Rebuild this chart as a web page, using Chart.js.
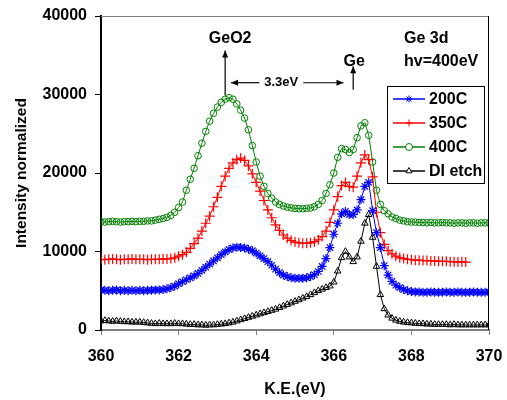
<!DOCTYPE html>
<html>
<head>
<meta charset="utf-8">
<script src="https://cdn.jsdelivr.net/npm/chart.js@4/dist/chart.umd.min.js"></script>
<style>
  html, body { margin: 0; padding: 0; background: #fff; overflow: hidden; }
  #wrap { width: 507px; height: 400px; }
</style>
</head>
<body>
<div id="wrap"><canvas id="xps"></canvas></div>
<script>
// ---------- data ----------
const ke = [
  360.0,360.1,360.2,360.3,360.4,360.5,360.6,360.7,360.8,360.9,
  361.0,361.1,361.2,361.3,361.4,361.5,361.6,361.7,361.8,361.9,
  362.0,362.1,362.2,362.3,362.4,362.5,362.6,362.7,362.8,362.9,
  363.0,363.1,363.2,363.3,363.4,363.5,363.6,363.7,363.8,363.9,
  364.0,364.1,364.2,364.3,364.4,364.5,364.6,364.7,364.8,364.9,
  365.0,365.1,365.2,365.3,365.4,365.5,365.6,365.7,365.8,365.9,
  366.0,366.1,366.2,366.3,366.4,366.5,366.6,366.7,366.8,366.9,
  367.0,367.1,367.2,367.3,367.4,367.5,367.6,367.7,367.8,367.9,
  368.0,368.1,368.2,368.3,368.4,368.5,368.6,368.7,368.8,368.9,
  369.0,369.1,369.2,369.3,369.4,369.5,369.6,369.7,369.8,369.9,
  370.0
];

const s200 = [
  5100,5050,5000,5050,5100,5000,5050,5000,5050,5000,
  5050,5000,5050,5050,5100,5100,5150,5250,5400,5600,
  5900,6150,6400,6650,6900,7200,7600,8000,8400,8800,
  9200,9600,9950,10250,10450,10550,10500,10450,10300,10100,
  9800,9450,9100,8700,8250,7750,7300,7000,6800,6650,
  6600,6580,6600,6650,6800,7050,7450,8100,9100,10500,
  12200,13600,14800,15100,14700,14700,15300,16600,18300,18800,
  15200,12400,10500,8200,7000,6200,5700,5400,5150,5000,
  4900,4850,4850,4800,4800,4850,4800,4800,4800,4850,
  4800,4800,4850,4800,4800,4800,4850,4800,4800,4800,
  4850
];

// 350C stops at 369.4 eV
const s350 = [
  9000,8950,9000,9050,9000,8950,9000,9000,9050,9000,
  9000,9000,8950,9000,9000,9000,9050,9050,9100,9200,
  9400,9600,9900,10400,11000,11700,12600,13600,14500,15700,
  16900,18300,19600,20600,21300,21700,21900,21600,20900,19900,
  18800,17700,16500,15300,14300,13400,12700,12100,11700,11400,
  11200,11100,11050,11050,11100,11250,11500,11900,12600,13700,
  15300,17000,18400,18800,18300,18200,19600,21300,22300,21700,
  19500,15000,12400,10900,10100,9700,9400,9200,9100,9000,
  8950,8900,8900,8850,8850,8800,8800,8750,8750,8750,
  8700,8700,8650,8700,8650
];

const s400 = [
  13800,13750,13800,13850,13800,13750,13800,13800,13850,13800,
  13850,13850,13900,13900,14000,14100,14200,14350,14600,15000,
  15600,16300,17800,19200,20600,22200,23800,25300,26600,27600,
  28400,29000,29400,29600,29400,28800,28000,27000,25500,23500,
  21400,19600,18300,17400,16800,16300,16000,15800,15650,15550,
  15500,15450,15450,15500,15550,15700,16000,16500,17400,18500,
  20000,22000,23100,23000,22600,23000,24500,26000,26400,24800,
  21400,17800,16000,15200,14800,14400,14200,14000,13900,13800,
  13750,13750,13700,13700,13650,13700,13650,13650,13700,13650,
  13650,13600,13650,13650,13600,13650,13650,13600,13650,13650,
  13650
];

const sDI = [
  1150,1200,1150,1100,1150,1100,1050,1050,1000,1000,
  1000,950,900,850,800,850,800,800,800,850,
  800,800,750,700,700,650,650,600,650,650,
  700,750,800,900,1000,1150,1300,1450,1600,1750,
  1900,2050,2200,2350,2500,2650,2850,3050,3250,3450,
  3650,3850,4050,4250,4500,4750,5000,5200,5400,5600,
  6100,7500,9200,10000,9300,8700,9300,11300,13600,14700,
  11800,8100,4500,2700,1900,1500,1250,1100,1000,950,
  900,850,800,800,750,750,700,700,700,700,
  650,700,650,650,650,650,650,650,650,650,
  650
];

const seriesNames = ['200C', '350C', '400C', 'DI etch'];
const xTicks = [360, 362, 364, 366, 368, 370];
const yTicks = [0, 10000, 20000, 30000, 40000];

// ---------- helpers ----------
const FONT = '"Liberation Sans", Arial, sans-serif';
const pts = (ys) => ys.map((y, i) => ({ x: ke[i], y: y }));

function mkSet(label, ys, color, style, r, bw) {
  return {
    label: label,
    data: pts(ys),
    borderColor: color,
    backgroundColor: 'rgba(0,0,0,0)',
    borderWidth: 1,
    pointStyle: style,
    pointRadius: r,
    pointBorderColor: color,
    pointBackgroundColor: 'rgba(0,0,0,0)',
    pointBorderWidth: bw,
    tension: 0
  };
}

function arrow(ctx, x1, y1, x2, y2) {
  const a = Math.atan2(y2 - y1, x2 - x1);
  ctx.beginPath();
  ctx.moveTo(x1, y1);
  ctx.lineTo(x2, y2);
  ctx.stroke();
  ctx.beginPath();
  ctx.moveTo(x2, y2);
  ctx.lineTo(x2 - 7 * Math.cos(a) + 3 * Math.sin(a), y2 - 7 * Math.sin(a) - 3 * Math.cos(a));
  ctx.lineTo(x2 - 7 * Math.cos(a) - 3 * Math.sin(a), y2 - 7 * Math.sin(a) + 3 * Math.cos(a));
  ctx.closePath();
  ctx.fill();
}

// frame, annotations and inset legend
const extras = {
  id: 'extras',
  afterDraw(chart) {
    const ctx = chart.ctx;
    const a = chart.chartArea;
    const xs = chart.scales.x, ys = chart.scales.y;
    ctx.save();

    // top / right border
    ctx.lineWidth = 1;
    ctx.strokeStyle = '#808080';
    ctx.beginPath(); ctx.moveTo(a.left, a.top + 0.5); ctx.lineTo(a.right, a.top + 0.5); ctx.stroke();
    ctx.strokeStyle = '#000';
    ctx.beginPath(); ctx.moveTo(a.right - 0.5, a.top); ctx.lineTo(a.right - 0.5, a.bottom); ctx.stroke();

    // arrows
    ctx.strokeStyle = '#000';
    ctx.fillStyle = '#000';
    ctx.lineWidth = 1.2;
    const gx = xs.getPixelForValue(363.2);
    arrow(ctx, gx, ys.getPixelForValue(29900), gx, ys.getPixelForValue(35600));
    const ex = xs.getPixelForValue(366.5);
    arrow(ctx, ex, ys.getPixelForValue(30600), ex, ys.getPixelForValue(33600));
    const hy = ys.getPixelForValue(31500);
    const tx = (xs.getPixelForValue(363.35) + xs.getPixelForValue(366.25)) / 2 - 4;
    arrow(ctx, tx - 24, hy, xs.getPixelForValue(363.35), hy);
    arrow(ctx, tx + 20, hy, xs.getPixelForValue(366.25), hy);

    // texts
    ctx.textBaseline = 'middle';
    ctx.font = 'bold 16px ' + FONT;
    ctx.textAlign = 'center';
    ctx.fillText('GeO2', gx + 5, 39);
    ctx.fillText('Ge', ex + 1, 62);
    ctx.textAlign = 'left';
    ctx.fillText('Ge 3d', 404, 39);
    ctx.fillText('hv=400eV', 404, 62);
    ctx.font = 'bold 13px ' + FONT;
    ctx.textAlign = 'center';
    ctx.fillText('3.3eV', tx - 2, hy);

    // legend box
    const lx = 387, ly = 86, lw = 97, lh = 97;
    ctx.fillStyle = '#fff';
    ctx.fillRect(lx, ly, lw, lh);
    ctx.lineWidth = 1;
    ctx.strokeStyle = '#000';
    ctx.strokeRect(lx + 0.5, ly + 0.5, lw, lh);
    const rows = [99, 123, 147, 171];
    chart.data.datasets.forEach((ds, i) => {
      const y = rows[i];
      ctx.strokeStyle = ds.borderColor;
      ctx.lineWidth = 1.5;
      ctx.beginPath(); ctx.moveTo(393, y); ctx.lineTo(425, y); ctx.stroke();
      ctx.lineWidth = 1;
      ctx.fillStyle = '#fff';
      Chart.helpers.drawPoint(ctx, { pointStyle: ds.pointStyle, radius: 3.5, rotation: 0, borderWidth: 1 }, 409, y);
      ctx.fillStyle = '#000';
      ctx.font = 'bold 16px ' + FONT;
      ctx.textAlign = 'left';
      ctx.fillText(ds.label, 429, y + 1);
    });
    ctx.restore();
  }
};

new Chart(document.getElementById('xps'), {
  type: 'line',
  data: {
    datasets: [
      mkSet(seriesNames[0], s200, '#0000FF', 'star', 4.5, 1.2),
      mkSet(seriesNames[1], s350, '#FF0000', 'cross', 5, 1.2),
      mkSet(seriesNames[2], s400, '#008000', 'circle', 3.3, 1),
      mkSet(seriesNames[3], sDI, '#000000', 'triangle', 3.8, 1)
    ]
  },
  options: {
    responsive: true,
    maintainAspectRatio: false,
    animation: false,
    layout: { padding: { top: 16, right: 18, left: 0, bottom: 0 } },
    plugins: { legend: { display: false }, tooltip: { enabled: false } },
    scales: {
      x: {
        type: 'linear',
        min: 360, max: 370,
        afterFit(s) { s.height = 70; s.paddingLeft = 0; s.paddingRight = 0; },
        afterBuildTicks(s) { s.ticks = xTicks.map(v => ({ value: v })); },
        grid: { drawOnChartArea: false, drawTicks: true, tickLength: 5, color: '#808080' },
        border: { display: true, color: '#808080', width: 2 },
        ticks: { color: '#000', padding: 12, font: { family: FONT, size: 16, weight: 'bold' }, maxRotation: 0,
                 callback: (v) => String(v) },
        title: { display: true, text: 'K.E.(eV)', color: '#000', padding: { top: 0, bottom: 1 },
                 font: { family: FONT, size: 16, weight: 'bold' } }
      },
      y: {
        min: 0, max: 40000,
        afterFit(s) { s.width = 101; s.paddingTop = 0; s.paddingBottom = 0; },
        afterBuildTicks(s) { s.ticks = yTicks.map(v => ({ value: v })); },
        grid: { drawOnChartArea: false, drawTicks: true, tickLength: 6, color: '#000' },
        border: { display: true, color: '#000', width: 2 },
        ticks: { color: '#000', padding: 8, font: { family: FONT, size: 16, weight: 'bold' },
                 callback: (v) => String(v) },
        title: { display: true, text: 'Intensity normalized', color: '#000', padding: { top: 12, bottom: 0 },
                 font: { family: FONT, size: 15.5, weight: 'bold' } }
      }
    }
  },
  plugins: [extras]
});
</script>
</body>
</html>
